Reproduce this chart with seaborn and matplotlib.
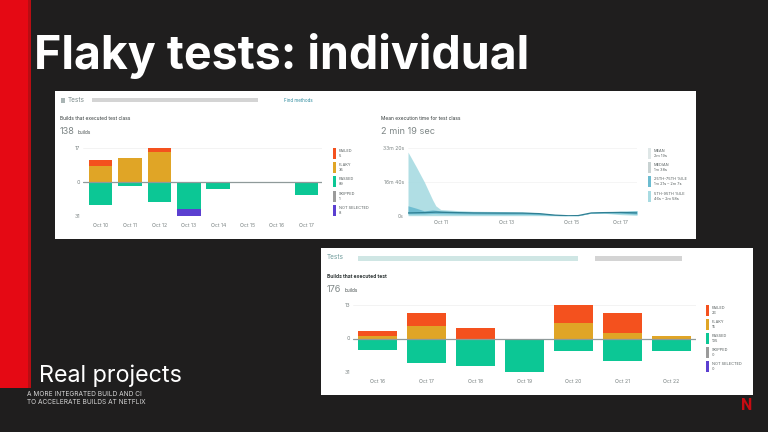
import numpy as np
import pandas as pd
import matplotlib
matplotlib.use("Agg")
import matplotlib.pyplot as plt
from matplotlib.patches import Rectangle
import seaborn as sns

sns.set_theme(style="white")
plt.rcParams['font.family'] = ['Inter', 'DejaVu Sans']

# ---- data ----
days_a = ["Oct 10", "Oct 11", "Oct 12", "Oct 13", "Oct 14", "Oct 15", "Oct 16", "Oct 17"]
failed_a = [3, 0, 2, 0, 0, 0, 0, 0]
flaky_a = [8, 12, 15, 0, 0, 0, 0, 0]
passed_a = [21, 4, 18, 25, 6, 0, 1, 12]
notsel_a = [0, 0, 0, 6, 0, 0, 0, 0]
legend_a = ["FAILED\n5", "FLAKY\n35", "PASSED\n89", "SKIPPED\n1", "NOT SELECTED\n8"]

days_b = ["Oct 16", "Oct 17", "Oct 18", "Oct 19", "Oct 20", "Oct 21", "Oct 22"]
failed_b = [2, 5, 4, 0, 7, 8, 0]
flaky_b = [1, 5, 0, 0, 6, 2, 1]
passed_b = [11, 23, 25, 31, 12, 21, 12]
notsel_b = [0, 0, 0, 0, 0, 0, 0]
legend_b = ["FAILED\n26", "FLAKY\n15", "PASSED\n135", "SKIPPED\n0", "NOT SELECTED\n0"]

t_days = [0, 0.25, 0.5, 0.75, 0.85, 1, 1.5, 2, 3, 3.5, 4, 4.5, 4.9, 5.2, 5.6, 6, 6.5, 7]
p95 = [1880, 1450, 1000, 480, 300, 190, 160, 140, 130, 120, 95, 40, 15, 20, 105, 125, 140, 160]
p75 = [300, 230, 150, 180, 170, 150, 130, 120, 115, 105, 80, 30, 10, 15, 100, 115, 135, 150]
median = [90, 95, 100, 110, 115, 110, 100, 90, 85, 85, 70, 25, 8, 12, 90, 100, 105, 90]
p25 = [60, 60, 60, 70, 70, 65, 60, 55, 50, 50, 40, 15, 5, 8, 85, 90, 80, 55]
p5 = [10, 10, 10, 10, 10, 10, 10, 10, 10, 10, 10, 5, 3, 5, 80, 80, 40, 20]

RED, AMB, GRN, GRY, PUR = "#f4511e", "#e0a526", "#0cc795", "#9b9b9b", "#5b3fd0"
LEG = [RED, AMB, GRN, GRY, PUR]
W, H = 768, 432
fig = plt.figure(figsize=(W / 100, H / 100), dpi=100, facecolor="#1f1e1e")


def box(x0, y0, x1, y1):
    return [x0 / W, 1 - y1 / H, (x1 - x0) / W, (y1 - y0) / H]


def rect(x0, y0, x1, y1, color, z=-2, **kw):
    fig.add_artist(Rectangle((x0 / W, 1 - y1 / H), (x1 - x0) / W, (y1 - y0) / H,
                             transform=fig.transFigure, facecolor=color, edgecolor="none",
                             zorder=z, **kw))


def txt(x, y, s, size, color="#ffffff", **kw):
    fig.text(x / W, 1 - y / H, s, fontsize=size, color=color, va=kw.pop("va", "center"), **kw)


# slide furniture
rect(0, 0, 28, 388, "#e50914")
rect(28, 0, 31, 388, "#b80d13")
rect(55, 91, 696, 239, "#ffffff")
rect(321, 248, 753, 395, "#ffffff")
txt(34, 56, "Flaky tests: individual", 33.5, fontweight="bold")
txt(39, 376, "Real projects", 16.8)
txt(27, 394, "A MORE INTEGRATED BUILD AND CI", 4.7, color="#d6d6d6")
txt(27, 402, "TO ACCELERATE BUILDS AT NETFLIX", 4.7, color="#d6d6d6")
txt(747, 406, "N", 11.5, color="#c70b12", fontweight="bold", ha="center",
    family=["Roboto", "DejaVu Sans"])


def diverging(ax, days, failed, flaky, passed, notsel, top, bottom, lo, hi):
    f = np.array(failed, float)
    k = np.array(flaky, float)
    p = np.array(passed, float)
    n = np.array(notsel, float)
    ratio = top / bottom
    ax.set_yscale("function", functions=(lambda v: np.where(v < 0, v * ratio, v),
                                         lambda v: np.where(v < 0, v / ratio, v)))
    style = dict(width=0.8, saturation=1, linewidth=0, ax=ax)
    sns.barplot(x=days, y=k, color=AMB, **style)
    sns.barplot(x=days, y=f, bottom=k, color=RED, **style)
    sns.barplot(x=days, y=-p, color=GRN, **style)
    sns.barplot(x=days, y=-n, bottom=-p, color=PUR, **style)
    ax.axhline(0, color="#8f9a9a", lw=0.9, zorder=5)
    ax.axhline(top, color="#efefef", lw=0.5, zorder=0)
    ax.set_ylim(-bottom, top)
    ax.set_xlim(lo, hi)
    ax.set_yticks([-bottom, 0, top], [str(bottom), "0", str(top)])
    ax.set_xlabel("")
    ax.set_ylabel("")
    ax.tick_params(axis="x", length=0, labelsize=3.7, labelcolor="#7d8585", pad=5)
    ax.tick_params(axis="y", length=0, labelsize=3.9, labelcolor="#7d8585", pad=2)
    for s in ax.spines.values():
        s.set_visible(False)
    ax.patch.set_alpha(0)


def legend(x, y0, step, colors, labels, h=11, size=2.8):
    for i, (c, s) in enumerate(zip(colors, labels)):
        y = y0 + i * step
        rect(x, y, x + 3, y + h, c)
        txt(x + 6, y + h / 2, s, size, color="#555d5d", linespacing=1.3)


# panel A: builds for the test class
rect(61, 98, 65, 103, "#a9b4b4")
txt(68, 100, "Tests", 4.6, color="#7b8a8a")
rect(92, 98, 258, 102, "#d4d4d4")
txt(284, 100, "Find methods", 3.2, color="#2c8a9d")
txt(60, 119, "Builds that executed test class", 3.5, color="#333a3a")
txt(60, 131, "138", 6.6, color="#7f8787")
txt(78, 132, "builds", 3.4, color="#4a5252")
ax = fig.add_axes(box(83, 148, 322, 216))
diverging(ax, days_a, failed_a, flaky_a, passed_a, notsel_a, 17, 31, -0.6, 7.53)
legend(333, 148, 14.2, LEG, legend_a)

# panel A: execution time
txt(381, 119, "Mean execution time for test class", 3.5, color="#333a3a")
txt(381, 131, "2 min 19 sec", 6.6, color="#7f8787")
ax = fig.add_axes(box(408, 148, 637, 216))
ax.fill_between(t_days, p5, p95, color="#a8dbe2", alpha=0.9, lw=0)
ax.fill_between(t_days, p25, p75, color="#6cbcd0", alpha=0.95, lw=0)
sns.lineplot(x=t_days, y=median, color="#2f7f93", lw=0.9, ax=ax)
ax.axhline(1000, color="#f2f2f2", lw=0.5, zorder=0)
ax.axhline(2000, color="#f2f2f2", lw=0.5, zorder=0)
ax.set_xlim(0, 7)
ax.set_ylim(0, 2000)
ax.set_xticks([1, 3, 5, 6.48], ["Oct 11", "Oct 13", "Oct 15", "Oct 17"])
ax.set_yticks([0, 1000, 2000], ["0s", "16m 40s", "33m 20s"])
ax.tick_params(length=0, labelsize=3.7, labelcolor="#7d8585", pad=3)
for s in ax.spines.values():
    s.set_visible(False)
ax.patch.set_alpha(0)
legend(648, 148, 14.2, ["#dfe7e7", "#c8d2d2", "#6cbcd0", "#a8dbe2"],
       ["MEAN\n2m 19s", "MEDIAN\n1m 38s", "25TH-75TH %ILE\n1m 21s – 2m 7s", "5TH-95TH %ILE\n46s – 2m 58s"])

# panel B: builds for the test
txt(327, 257, "Tests", 4.6, color="#6d9a9a")
rect(358, 256, 578, 261, "#cfe6e4")
rect(595, 256, 682, 261, "#d4d4d4")
txt(327, 277, "Builds that executed test", 3.6, color="#333a3a", fontweight="bold")
txt(327, 289, "176", 6.6, color="#7f8787")
txt(345, 290, "builds", 3.4, color="#4a5252")
ax = fig.add_axes(box(352.7, 305, 696, 372))
diverging(ax, days_b, failed_b, flaky_b, passed_b, notsel_b, 13, 31, -0.5, 6.5)
legend(706, 305, 14, LEG, legend_b)

fig.savefig("out.png", dpi=100, facecolor=fig.get_facecolor())
